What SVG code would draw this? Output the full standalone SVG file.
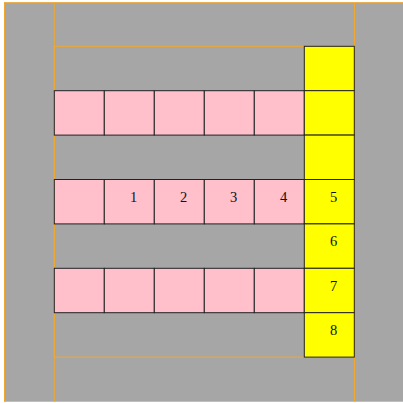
<svg xmlns="http://www.w3.org/2000/svg" width="403" height="403" viewBox="0 0 403 403">
<style>
.bg{fill:#a6a6a6}
.o{stroke:#f0a830;stroke-width:1;fill:none}
.p{fill:#ffc0cb;stroke:#222;stroke-width:1}
.y{fill:#ffff00;stroke:#222;stroke-width:1}
.t{font-family:"Liberation Serif","DejaVu Serif",serif;font-size:14.5px;fill:#111;text-anchor:middle}
</style>
<rect width="403" height="403" fill="#fff"/>
<rect class="bg" x="4" y="2.5" width="399" height="399.2"/>
<g id="frame">
<line class="o" x1="4.5" y1="2.5" x2="4.5" y2="401.7"/>
<line class="o" x1="4" y1="2.7" x2="403" y2="2.7"/>
<line class="o" x1="54.3" y1="2.5" x2="54.3" y2="401.7"/>
<line class="o" x1="354.5" y1="2.5" x2="354.5" y2="401.7"/>
<rect class="o" x="54.3" y="46.3" width="300.2" height="310.8"/>
</g>
<g id="row1">
<rect class="p" x="54.3" y="90.7" width="50" height="44.4"/>
<rect class="p" x="104.3" y="90.7" width="50" height="44.4"/>
<rect class="p" x="154.3" y="90.7" width="50" height="44.4"/>
<rect class="p" x="204.3" y="90.7" width="50" height="44.4"/>
<rect class="p" x="254.3" y="90.7" width="50" height="44.4"/>
</g>
<g id="row3">
<rect class="p" x="54.3" y="179.5" width="50" height="44.4"/>
<g id="c1"><rect class="p" x="104.3" y="179.5" width="50" height="44.4"/><text class="t" x="133.5" y="201.8">1</text></g>
<g id="c2"><rect class="p" x="154.3" y="179.5" width="50" height="44.4"/><text class="t" x="183.5" y="201.8">2</text></g>
<g id="c3"><rect class="p" x="204.3" y="179.5" width="50" height="44.4"/><text class="t" x="233.5" y="201.8">3</text></g>
<g id="c4"><rect class="p" x="254.3" y="179.5" width="50" height="44.4"/><text class="t" x="283.5" y="201.8">4</text></g>
</g>
<g id="row5">
<rect class="p" x="54.3" y="268.3" width="50" height="44.4"/>
<rect class="p" x="104.3" y="268.3" width="50" height="44.4"/>
<rect class="p" x="154.3" y="268.3" width="50" height="44.4"/>
<rect class="p" x="204.3" y="268.3" width="50" height="44.4"/>
<rect class="p" x="254.3" y="268.3" width="50" height="44.4"/>
</g>
<g id="column">
<rect class="y" x="304.3" y="46.3" width="50" height="44.4"/>
<rect class="y" x="304.3" y="90.7" width="50" height="44.4"/>
<rect class="y" x="304.3" y="135.1" width="50" height="44.4"/>
<g id="c5"><rect class="y" x="304.3" y="179.5" width="50" height="44.4"/><text class="t" x="333.5" y="201.8">5</text></g>
<g id="c6"><rect class="y" x="304.3" y="223.9" width="50" height="44.4"/><text class="t" x="333.5" y="246.2">6</text></g>
<g id="c7"><rect class="y" x="304.3" y="268.3" width="50" height="44.4"/><text class="t" x="333.5" y="290.6">7</text></g>
<g id="c8"><rect class="y" x="304.3" y="312.7" width="50" height="44.4"/><text class="t" x="333.5" y="335">8</text></g>
</g>
</svg>
